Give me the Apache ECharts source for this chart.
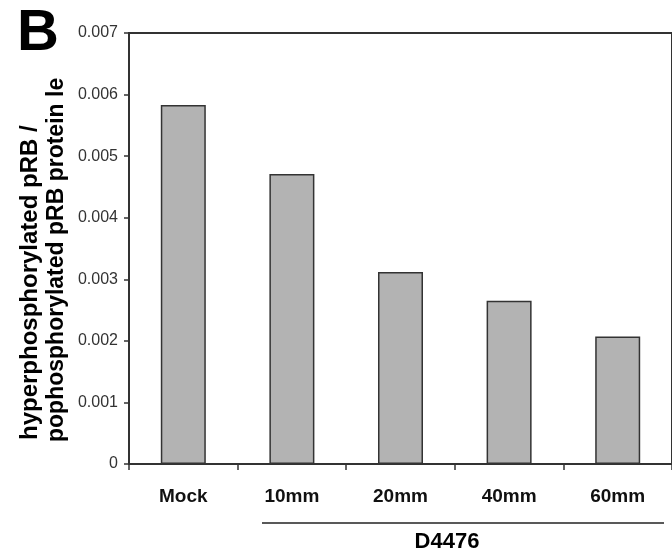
<!DOCTYPE html>
<html>
<head>
<meta charset="utf-8">
<script src="https://cdn.jsdelivr.net/npm/echarts@6/dist/echarts.min.js"></script>
<style>
  html, body { margin: 0; padding: 0; background: #fff; }
  #chart { width: 672px; height: 553px; }
</style>
</head>
<body>
<div id="chart"></div>
<script>
// categories and values
var categories = ["Mock", "10mm", "20mm", "40mm", "60mm"];
var ratioValues = [0.00583, 0.00471, 0.00312, 0.00265, 0.00207];
var yTickLabels = ["0", "0.001", "0.002", "0.003", "0.004", "0.005", "0.006", "0.007"];

var FONT = "'Liberation Sans', Arial, sans-serif";

var chart = echarts.init(document.getElementById("chart"));

var option = {
  animation: false,
  backgroundColor: "#fff",
  grid: {
    left: 129,
    top: 33,
    width: 549,
    height: 431,
    show: true,
    borderColor: "#333",
    borderWidth: 2,
    backgroundColor: "transparent"
  },
  xAxis: {
    type: "category",
    data: categories,
    axisLine: { lineStyle: { color: "#333", width: 1.5 } },
    axisTick: { show: true, length: 6, lineStyle: { color: "#333", width: 1.5 } },
    axisLabel: {
      margin: 23,
      color: "#111",
      fontFamily: FONT,
      fontWeight: "bold",
      fontSize: 19
    }
  },
  yAxis: {
    type: "value",
    min: 0,
    max: 0.007,
    interval: 0.001,
    axisLine: { show: true, lineStyle: { color: "#333", width: 1.5 } },
    axisTick: { show: true, length: 5, lineStyle: { color: "#333", width: 1.5 } },
    splitLine: { show: false },
    axisLabel: {
      margin: 11,
      color: "#333",
      fontFamily: FONT,
      fontSize: 16,
      formatter: function (v) {
        return yTickLabels[Math.round(v / 0.001)];
      }
    }
  },
  series: [
    {
      type: "bar",
      data: ratioValues,
      barWidth: 45,
      itemStyle: {
        color: "#b3b3b3",
        borderColor: "#333",
        borderWidth: 1.5
      }
    }
  ],
  graphic: [
    {
      type: "text",
      left: 17,
      top: 5,
      style: { text: "B", font: "bold 58px " + FONT, fill: "#000" }
    },
    {
      // y axis title, first line
      type: "text",
      x: 30,
      y: 440,
      rotation: Math.PI / 2,
      style: {
        text: "hyperphosphorylated pRB /",
        font: "bold 24px " + FONT,
        fill: "#000",
        align: "left",
        verticalAlign: "middle"
      }
    },
    {
      // y axis title, second line (cut off in the figure)
      type: "text",
      x: 57,
      y: 442,
      rotation: Math.PI / 2,
      style: {
        text: "pophosphorylated pRB protein le",
        font: "bold 23px " + FONT,
        fill: "#000",
        align: "left",
        verticalAlign: "middle"
      }
    },
    {
      type: "line",
      shape: { x1: 262, y1: 523, x2: 664, y2: 523 },
      style: { stroke: "#222", lineWidth: 1.5 }
    },
    {
      type: "text",
      x: 447,
      y: 542,
      style: {
        text: "D4476",
        font: "bold 22px " + FONT,
        fill: "#000",
        align: "center",
        verticalAlign: "middle"
      }
    }
  ]
};

chart.setOption(option);
</script>
</body>
</html>
